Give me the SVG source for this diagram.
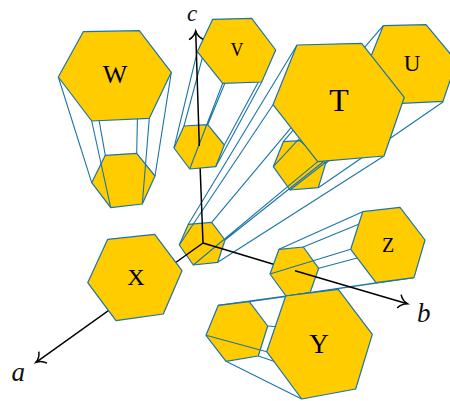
<svg xmlns="http://www.w3.org/2000/svg" width="450" height="401" viewBox="0 0 450 401">
<style>
.h{fill:#ffcc00;stroke:#1b75a8;stroke-width:1.2;stroke-linejoin:round}
.e{fill:none;stroke:#1b75a8;stroke-width:1.1}
.a{fill:none;stroke:#000;stroke-width:1.5}
.t{font-family:"Liberation Serif",serif;fill:#000;text-anchor:middle}
.i{font-family:"Liberation Serif",serif;font-style:italic;fill:#111;font-size:27px}
</style>
<defs>
<marker id="tip" markerUnits="userSpaceOnUse" markerWidth="24" markerHeight="24" refX="12" refY="12" orient="auto" overflow="visible">
<path d="M3.500 5Q6.500 10.500 12 12Q6.500 13.500 3.500 19" fill="none" stroke="#000" stroke-width="1.500"/>
</marker>
</defs>
<rect width="450" height="401" fill="#fff"/>
<g id="node-W">
<polygon class="h" points="105.300,155.300 136.700,153.300 155,176 142.300,204 110.700,207.700 91.700,182.700"/>
<path class="e" d="M83.300 31.700L105.300 155.300M139.300 30.700L136.700 153.300M171.300 72.300L155 176M149.300 118.300L142.300 204M91.700 121L110.700 207.700M58.300 77L91.700 182.700"/>
<polygon class="h" points="83.300,31.700 139.300,30.700 171.300,72.300 149.300,118.300 91.700,121 58.300,77"/>
<text class="t" x="115" y="83" font-size="26">W</text>
</g>
<g id="node-U">
<polygon class="h" points="283.300,141.700 300,140.700 325.700,163.300 318.300,187.700 290,190 273.300,166.700"/>
<path class="e" d="M383.300 25.700L283.300 141.700M426 24.700L300 140.700M456.500 61.300L325.700 163.300M443.300 101.700L318.300 187.700M401.700 103.300L290 190M367.500 65L273.300 166.700"/>
<polygon class="h" points="383.300,25.700 426,24.700 456.500,61.300 443,101.300 401.700,103.300 367.500,65"/>
<text class="t" x="412" y="71" font-size="23">U</text>
</g>
<g id="node-T">
<polygon class="h" points="188.300,224.300 211.700,222.300 225,240 217.700,262.300 193.300,265 179.300,245"/>
<path class="e" d="M297 45L188.300 224.300M361.700 43.300L211.700 222.300M404.300 97.300L225 240M384 156L217.700 262.300M317.700 161.700L193.300 265M273 104.700L179.300 245"/>
<polygon class="h" points="297,45 361.700,43.300 404.300,97.300 384,156 317.700,161.700 273,104.700"/>
<text class="t" x="339" y="111" font-size="32">T</text>
</g>
<g id="connectors-under">
<path class="a" d="M203 243L36 362.300" marker-end="url(#tip)"/>
<path class="a" d="M203 243L199.300 146M203 243L295 270.700"/>
</g>
<g id="node-V">
<polygon class="h" points="184,126 207.700,124.700 224.300,145 215.700,166.700 189.700,169 174,148"/>
<path class="e" d="M212.700 19.300L184 126M251.700 18.300L207.700 124.700M275.700 50L224.300 145M261.700 82L215.700 166.700M222.700 83.300L189.700 169M197.300 51.700L174 148"/>
<polygon class="h" points="212.700,19.300 251.700,18.300 275.700,50 261.700,82 222.700,83.300 197.300,51.700"/>
<text class="t" x="237" y="56" font-size="18">V</text>
</g>
<g id="node-X">
<polygon class="h" points="107.700,239.300 154.700,234.300 182,270.700 163.300,314 116,320.700 87.700,282.700"/>
<text class="t" x="136" y="285" font-size="24">X</text>
</g>
<g id="node-Z">
<polygon class="h" points="279,249.300 303.300,247 318.700,268.300 310,292.700 286,296 270,274"/>
<path class="e" d="M362.700 211.700L279 249.300M400 207.300L303.300 247M425 240L318.700 268.300M414 277.700L310 292.700M376 282.700L286 296M350.700 249.300L270 274"/>
<polygon class="h" points="362.700,211.700 400,207.300 425,240 414,277.700 376,282.700 350.700,249.300"/>
<text class="t" x="388" y="252" font-size="20">Z</text>
</g>
<g id="node-Y">
<polygon class="h" points="218.300,305.300 249.300,301.700 267.700,326 258.300,356 226,361.300 206,335.300"/>
<path class="e" d="M285.700 296L218.300 305.300M338.300 289.300L249.300 301.700M372.300 334.300L267.700 326M355.700 389L258.300 356M301.700 399L226 361.300M266.700 351.700L206 335.300"/>
<polygon class="h" points="285.700,296 338.300,289.300 372.300,334.300 355.700,389 301.700,399 266.700,351.700"/>
<text class="t" x="319" y="353" font-size="27">Y</text>
</g>
<g id="connectors-over">
<path class="a" d="M199.300 146L195.700 31" marker-end="url(#tip)"/>
<path class="a" d="M295 270.700L407.300 303.700" marker-end="url(#tip)"/>
</g>
<g id="axis-labels">
<text class="i" x="11.500" y="381">a</text>
<text class="i" x="417" y="322">b</text>
<text class="i" x="187" y="21" style="font-size:23px">c</text>
</g>
</svg>
